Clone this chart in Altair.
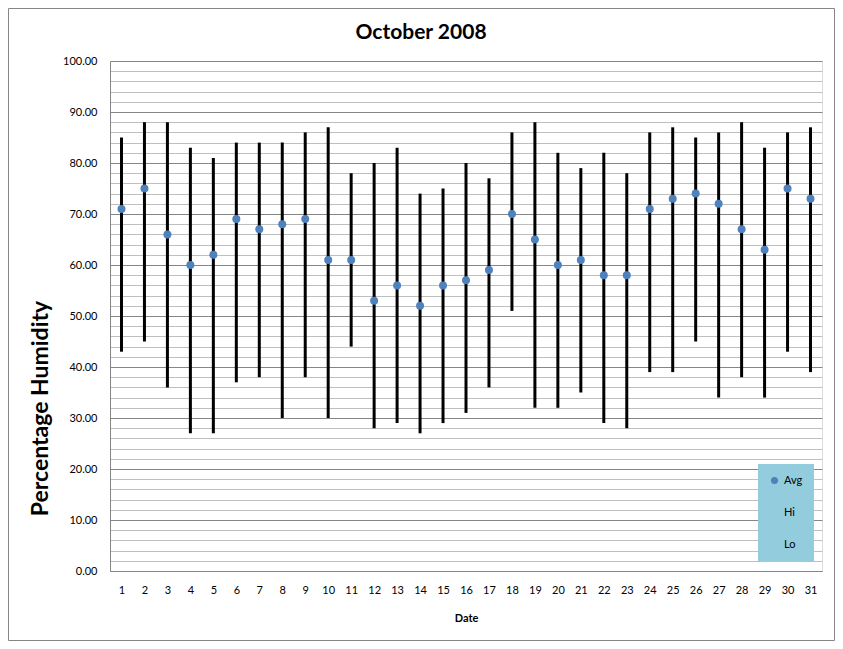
import altair as alt
import pandas as pd

DAYS = list(range(1, 32))
AVG = [71, 75, 66, 60, 62, 69, 67, 68, 69, 61, 61, 53, 56, 52, 56, 57,
       59, 70, 65, 60, 61, 58, 58, 71, 73, 74, 72, 67, 63, 75, 73]
HI = [85, 88, 88, 83, 81, 84, 84, 84, 86, 87, 78, 80, 83, 74, 75, 80,
      77, 86, 88, 82, 79, 82, 78, 86, 87, 85, 86, 88, 83, 86, 87]
LO = [43, 45, 36, 27, 27, 37, 38, 30, 38, 30, 44, 28, 29, 27, 29, 31,
      36, 51, 32, 32, 35, 29, 28, 39, 39, 45, 34, 38, 34, 43, 39]
SERIES = ["Avg", "Hi", "Lo"]
Y_TICKS = list(range(0, 101, 2))

FONT = "Lato"
BLUE = "#4F81BD"
MAJOR = "#868686"
MINOR = "#BFBFBF"
LEGEND_FILL = "#93CDDD"

df = pd.DataFrame({"Date": DAYS, "Avg": AVG, "Hi": HI, "Lo": LO,
                   "Series": ["Avg"] * len(DAYS)})

x_enc = alt.X(
    "Date:O",
    title="Date",
    scale=alt.Scale(type="point", padding=0.5),
    axis=alt.Axis(
        labelAngle=0, ticks=False, grid=False, domainColor=MAJOR,
        labelFont=FONT, labelFontSize=11, labelColor="black", labelPadding=13,
        titleFont=FONT, titleFontSize=11, titleFontWeight="bold",
        titleColor="black", titlePadding=17,
    ),
)

y_axis = alt.Axis(
    values=Y_TICKS,
    tickCount=len(Y_TICKS),
    labelOverlap=False,
    labelExpr="datum.value % 10 === 0 ? format(datum.value, '.2f') : ''",
    ticks=False,
    domainColor=MAJOR,
    gridColor={"condition": {"test": "datum.value % 10 === 0", "value": MAJOR},
               "value": MINOR},
    gridWidth=1,
    labelFont=FONT, labelFontSize=11, labelColor="black", labelPadding=13,
    title="Percentage Humidity",
    titleFont=FONT, titleFontSize=23, titleFontWeight="bold", titleColor="black",
    titleX=-70, titleY=347, titleAngle=270, titleAlign="center",
    titleBaseline="middle",
)

base = alt.Chart(df)

rules = base.mark_rule(color="black", strokeWidth=3).encode(
    x=x_enc,
    y=alt.Y("Lo:Q", scale=alt.Scale(domain=[0, 100], nice=False), axis=y_axis),
    y2="Hi:Q",
)

points = base.mark_point(filled=True, size=64, opacity=1).encode(
    x=x_enc,
    y=alt.Y("Avg:Q"),
    color=alt.Color(
        "Series:N",
        scale=alt.Scale(domain=SERIES, range=[BLUE, "transparent", "transparent"]),
        legend=alt.Legend(
            title=None, orient="none", legendX=648, legendY=403,
            fillColor=LEGEND_FILL, padding=11, rowPadding=20,
            symbolType="circle", symbolSize=50, symbolStrokeWidth=0,
            labelFont=FONT, labelFontSize=11, labelColor="black", labelOffset=4,
        ),
    ),
)

border = alt.Chart(pd.DataFrame({"k": [0]})).mark_rect(
    fill=None, stroke="#868686", strokeWidth=1
).encode(
    x=alt.value(-101.5), x2=alt.value(724.5),
    y=alt.value(-52.5), y2=alt.value(579.5),
)

chart = alt.layer(border, rules, points).properties(
    width=712,
    height=510,
    title=alt.Title("October 2008", font=FONT, fontSize=21, fontWeight="bold",
                    color="black", anchor="middle", dx=-45, dy=47, offset=12),
    autosize=alt.AutoSizeParams(type="none"),
    padding={"left": 102, "top": 53, "right": 13, "bottom": 70},
).configure_view(stroke=None).configure(background="white")

chart.save("out.html", embed_options={"renderer": "svg", "actions": False})
